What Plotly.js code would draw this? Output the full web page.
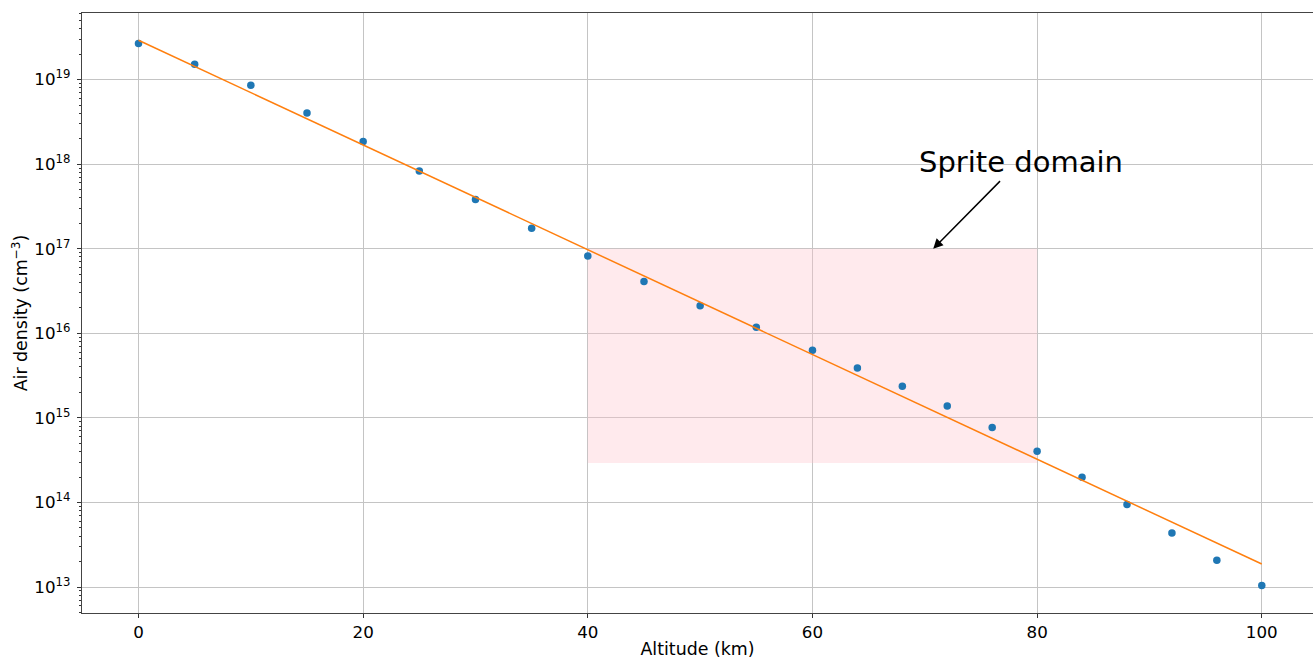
<!DOCTYPE html>
<html>
<head>
<meta charset="utf-8">
<script src="https://cdn.plot.ly/plotly-3.0.1.min.js"></script>
<style>html,body{margin:0;padding:0;background:#fff;}#chart{width:1313px;height:659px;}</style>
</head>
<body>
<div id="chart"></div>
<script>
// Measured air density vs altitude
const altitude = [0, 5, 10, 15, 20, 25, 30, 35, 40, 45, 50, 55, 60, 64, 68, 72, 76, 80, 84, 88, 92, 96, 100];
const density = [2.67e19, 1.52e19, 8.57e18, 4.03e18, 1.85e18, 8.30e17, 3.81e17, 1.75e17, 8.20e16, 4.09e16,
                 2.11e16, 1.18e16, 6.29e15, 3.89e15, 2.36e15, 1.38e15, 7.69e14, 4.03e14, 1.98e14, 9.43e13,
                 4.36e13, 2.07e13, 1.04e13];
// Exponential fit (straight line on log axis), endpoints
const fitAltitude = [0, 100];
const fitDensity = [2.92e19, 1.87e13];
// Sprite domain region
const spriteAlt = [40, 80];
const spriteDensity = [2.93e14, 1e17];
const spriteLabel = "Sprite domain";
const spriteArrowTip = [70.75, 1e17];
const spriteArrowTail = [76.83, 6.56e17];
const spriteTextPos = [78.6, 1.07e18];
// Ticks
const xTicks = [0, 20, 40, 60, 80, 100];
const yTickVals = [1e13, 1e14, 1e15, 1e16, 1e17, 1e18, 1e19];
const yTickText = ["10<sup>13</sup>", "10<sup>14</sup>", "10<sup>15</sup>", "10<sup>16</sup>",
                   "10<sup>17</sup>", "10<sup>18</sup>", "10<sup>19</sup>"];

const minorVals = [];
for (let e = 12; e <= 19; e++) {
  for (let m = 2; m <= 9; m++) minorVals.push(m * Math.pow(10, e));
}

const font = {family: "DejaVu Sans, sans-serif", size: 16.7, color: "#000"};
const titleFont = {family: "DejaVu Sans, sans-serif", size: 17.4, color: "#000"};

const traces = [
  {
    x: altitude, y: density, type: "scatter", mode: "markers",
    marker: {color: "#1f77b4", size: 7.5}, showlegend: false, cliponaxis: false
  },
  {
    x: fitAltitude, y: fitDensity, type: "scatter", mode: "lines",
    line: {color: "#ff7f0e", width: 1.5}, showlegend: false
  }
];

const layout = {
  width: 1313, height: 659,
  margin: {l: 82, r: 0, t: 13, b: 46, pad: 0},
  paper_bgcolor: "#fff", plot_bgcolor: "#fff",
  font: font,
  showlegend: false,
  xaxis: {
    range: [-5.03, 104.56], autorange: false,
    tickmode: "array", tickvals: xTicks,
    ticks: "outside", ticklen: 4, tickwidth: 1, tickcolor: "#333",
    showline: true, linecolor: "#444", linewidth: 1.2, mirror: true,
    showgrid: true, gridcolor: "#c4c4c4", gridwidth: 1,
    zeroline: false,
    tickfont: font,
    title: {text: "Altitude (km)", font: titleFont, standoff: 2}
  },
  yaxis: {
    type: "log",
    range: [12.693, 19.787], autorange: false,
    tickmode: "array", tickvals: yTickVals, ticktext: yTickText,
    ticks: "outside", ticklen: 4, tickwidth: 1, tickcolor: "#333",
    minor: {tickmode: "array", tickvals: minorVals, ticks: "outside", ticklen: 2, tickwidth: 1, tickcolor: "#333", showgrid: false},
    showline: true, linecolor: "#444", linewidth: 1.2, mirror: false,
    showgrid: true, gridcolor: "#c4c4c4", gridwidth: 1,
    zeroline: false,
    tickfont: font,
    ticklabelstandoff: 3,
    title: {text: "Air density (cm<sup>−3</sup>)", font: titleFont, standoff: 2}
  },
  shapes: [
    {
      type: "rect", xref: "x", yref: "y", layer: "between",
      x0: spriteAlt[0], x1: spriteAlt[1], y0: spriteDensity[0], y1: spriteDensity[1],
      fillcolor: "rgba(255,192,203,0.34)", line: {width: 0}
    }
  ],
  annotations: [
    {
      xref: "x", yref: "y", axref: "x", ayref: "y",
      x: spriteArrowTip[0], y: Math.log10(spriteArrowTip[1]),
      ax: spriteArrowTail[0], ay: Math.log10(spriteArrowTail[1]),
      text: "", showarrow: true, arrowhead: 2, arrowsize: 1.3, arrowwidth: 1.5, arrowcolor: "#000"
    },
    {
      xref: "x", yref: "y",
      x: spriteTextPos[0], y: Math.log10(spriteTextPos[1]),
      text: spriteLabel, showarrow: false,
      xanchor: "center", yanchor: "middle",
      font: {family: "DejaVu Sans, sans-serif", size: 29, color: "#000"}
    }
  ]
};

Plotly.newPlot("chart", traces, layout, {displayModeBar: false, staticPlot: true});
</script>
</body>
</html>
